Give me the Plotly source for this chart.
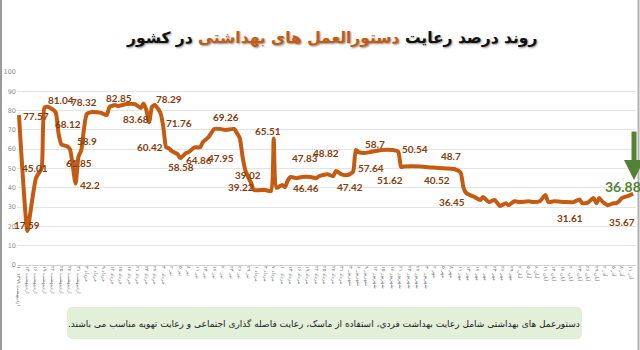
import plotly.graph_objects as go

# ---------------- data ----------------
days = [0, 3, 4, 6, 7, 8, 9, 10, 12, 13, 14, 15, 17, 18, 20, 21, 22, 24, 26, 29,
        31, 32, 34, 35, 38, 41, 43, 44, 45, 46, 47, 48, 50, 51, 52, 53, 54, 56, 57, 59,
        60, 62, 64, 65, 67, 69, 71, 73, 76, 77, 78, 79, 80, 82, 83, 87, 89, 90, 91, 93,
        94, 95, 96, 98, 100, 103, 105, 106, 109, 111, 112, 114, 116, 118, 119, 120, 122, 124, 128, 132,
        134, 135, 136, 142, 146, 151, 154, 156, 157, 158, 160, 161, 163, 164, 166, 168, 170, 172, 173, 175,
        177, 180, 182, 184, 186, 187, 189, 193, 196, 198, 199, 201, 203, 204, 205, 206, 208, 210, 211, 212,
        213, 215, 217]
compliance = [77.6, 17.6, 27, 45, 47.6, 50, 81.5, 82, 80.5, 79, 68, 62.5, 61.5, 60, 42.2, 56, 59.5, 78.3, 79.3, 78.8,
              77.7, 81.9, 82.85, 82.4, 83.4, 83.4, 81.3, 83.68, 80.3, 74, 81.9, 82.9, 78.8, 71.5, 61, 60.4, 59, 57.5, 55.4, 58,
              58.5, 61, 61, 63.7, 66.3, 70.5, 70.5, 70, 70.5, 68.4, 65.8, 56, 49, 42.5, 38.9, 38.9, 38.3, 65.5, 40, 41.5,
              40.4, 44, 45.6, 45, 45.6, 45.6, 45, 46, 47, 46, 48.7, 47, 46.6, 48.2, 59.6, 58.5, 58, 58.5, 59.6, 59.6,
              58.7, 50.8, 51, 51, 50.5, 50, 49.6, 48, 40.4, 37.3, 35.8, 35.2, 33.7, 35.2, 32.6, 33.7, 30.6, 32, 31, 33,
              32.6, 33, 32.6, 33, 36.3, 32.6, 33, 32.6, 32.6, 34, 32, 32.3, 34.7, 32, 34.7, 33, 31, 32, 32, 33,
              34.7, 35.7, 36.88]

label_texts = ["77.57", "17.59", "45.01", "81.04", "78.32", "68.12", "58.9", "61.85", "42.2",
               "82.85", "78.29", "83.68", "71.76", "60.42", "58.58", "64.86", "47.95", "69.26",
               "39.02", "39.22", "65.51", "47.83", "48.82", "46.46", "47.42", "58.7", "57.64",
               "51.62", "50.54", "40.52", "48.7", "36.45", "31.61", "35.67"]
label_pos = [(6.0, 77.2), (2.8, 20.7), (5.7, 50.3), (15.0, 85.5), (22.8, 84.5), (17.3, 73.1),
             (24.0, 64.2), (21.2, 52.8), (25.1, 41.5), (35.3, 86.5), (53.0, 86.0), (41.3, 75.6),
             (56.5, 73.6), (46.3, 61.1), (57.2, 50.8), (63.6, 54.4), (71.4, 55.4), (73.1, 76.7),
             (80.9, 46.6), (78.4, 40.4), (88.0, 69.4), (101.1, 55.4), (108.5, 58.0), (101.4, 39.9),
             (117.0, 40.4), (125.8, 62.7), (124.4, 50.3), (131.1, 44.0), (139.9, 60.1), (147.7, 44.0),
             (152.7, 56.5), (153.0, 32.6), (194.7, 24.4), (213.1, 22.3)]
last_label = "36.88"
last_label_pos = (213.4, 40.9)

title_parts = ["روند درصد رعایت ", "دستورالعمل های بهداشتی", " در کشور"]
note_text = "دستورعمل های بهداشتی شامل رعایت بهداشت فردي، استفاده از ماسک، رعایت فاصله گذاری اجتماعی و رعایت تهویه مناسب می باشند."

# Persian date tick labels (every 3 days)
fa_digits = str.maketrans("0123456789", "۰۱۲۳۴۵۶۷۸۹")
months = [("اردیبهشت", 31), ("خرداد", 31), ("تیر", 31), ("مرداد", 31), ("شهریور", 31),
          ("مهر", 30), ("آبان", 30), ("آذر", 30), ("دی", 30)]
tick_days = list(range(0, 217, 3))
tick_labels = []
for td in tick_days:
    d = 10 + td
    mi = 0
    while d > months[mi][1]:
        d -= months[mi][1]
        mi += 1
    lab = f"{d} {months[mi][0]}".translate(fa_digits)
    if td == 0:
        lab += " ۱۳۹۹"
    tick_labels.append(lab)

# ---------------- geometry helpers ----------------
ML, MR, MT, MB = 17, 4, 72, 85
PW, PH = 640 - ML - MR, 350 - MT - MB


def px_x(p):
    return (p - ML) / PW


def px_y(p):
    return (350 - MB - p) / PH


ORANGE = "#C55A11"
BROWN = "#843C0C"
GREEN = "#548235"
LABEL_FONT = "Liberation Sans Narrow, Lato, sans-serif"
RLM = "\u200f"

fig = go.Figure()
fig.add_trace(go.Scatter(
    x=days, y=compliance, mode="lines",
    line=dict(color=ORANGE, width=4, shape="spline", smoothing=0.6),
    hoverinfo="skip", showlegend=False))

annotations = []
for t, (lx, ly) in zip(label_texts, label_pos):
    annotations.append(dict(x=lx, y=ly, xref="x", yref="y", text=t, showarrow=False,
                            font=dict(family=LABEL_FONT, size=10, color=BROWN, weight=700)))
annotations.append(dict(x=last_label_pos[0], y=last_label_pos[1], xref="x", yref="y", text=last_label,
                        showarrow=False, font=dict(family=LABEL_FONT, size=14, color=GREEN, weight=700)))
# green arrow
annotations.append(dict(x=217.3, y=44.0, xref="x", yref="y", ax=0, ay=-50, text="",
                        showarrow=True, arrowhead=2, arrowsize=0.8, arrowwidth=5, arrowcolor=GREEN))
# title
title_html = (f"<span style='color:#111111'>{title_parts[0]}</span>"
              f"<span style='color:{ORANGE}'>{title_parts[1]}</span>"
              f"<span style='color:#111111'>{title_parts[2]}</span>")
annotations.append(dict(x=px_x(331), y=px_y(38), xref="paper", yref="paper", text=title_html,
                        showarrow=False, xanchor="center", yanchor="middle",
                        font=dict(family="DejaVu Sans", size=15.5, weight=700,
                                  shadow="1px 1px 2px rgba(0,0,0,0.45)")))
# note text
annotations.append(dict(x=px_x(324), y=px_y(323), xref="paper", yref="paper", text=note_text + RLM,
                        showarrow=False, xanchor="center", yanchor="middle",
                        font=dict(family="DejaVu Sans", size=9, color="#222222")))

# rounded green box
x0, x1, y0, y1 = 67, 582, 307, 339
r = 6
def P(px, py):
    return f"{px_x(px):.5f},{px_y(py):.5f}"
path = (f"M {P(x0 + r, y0)} L {P(x1 - r, y0)} Q {P(x1, y0)} {P(x1, y0 + r)} "
        f"L {P(x1, y1 - r)} Q {P(x1, y1)} {P(x1 - r, y1)} L {P(x0 + r, y1)} "
        f"Q {P(x0, y1)} {P(x0, y1 - r)} L {P(x0, y0 + r)} Q {P(x0, y0)} {P(x0 + r, y0)} Z")
shapes = [
    dict(type="path", xref="paper", yref="paper", path=path,
         fillcolor="#E2EFD9", line=dict(width=0), layer="below"),
    dict(type="line", xref="paper", yref="paper", x0=px_x(1), x1=px_x(1), y0=px_y(0), y1=px_y(350),
         line=dict(color="#9a9a9a", width=2)),
    dict(type="line", xref="paper", yref="paper", x0=px_x(638.5), x1=px_x(638.5), y0=px_y(0), y1=px_y(350),
         line=dict(color="#b0b0b0", width=2)),
]

fig.update_layout(
    width=640, height=350,
    margin=dict(l=ML, r=MR, t=MT, b=MB),
    paper_bgcolor="white", plot_bgcolor="white",
    annotations=annotations, shapes=shapes,
    xaxis=dict(range=[-0.7, 218.0], tickmode="array", tickvals=tick_days, ticktext=tick_labels,
               tickangle=90, tickfont=dict(family="DejaVu Sans", size=5, color="#777777"),
               showgrid=False, zeroline=False, showline=False, ticks="", automargin=False),
    yaxis=dict(range=[0, 100], dtick=10, showgrid=True, gridcolor="#e4e4e4", gridwidth=1,
               zeroline=True, zerolinecolor="#d0d0d0", zerolinewidth=1,
               tickfont=dict(family="DejaVu Sans", size=6.5, color="#8c8c8c"),
               ticks="", automargin=False),
)

fig.write_html("out.html")
